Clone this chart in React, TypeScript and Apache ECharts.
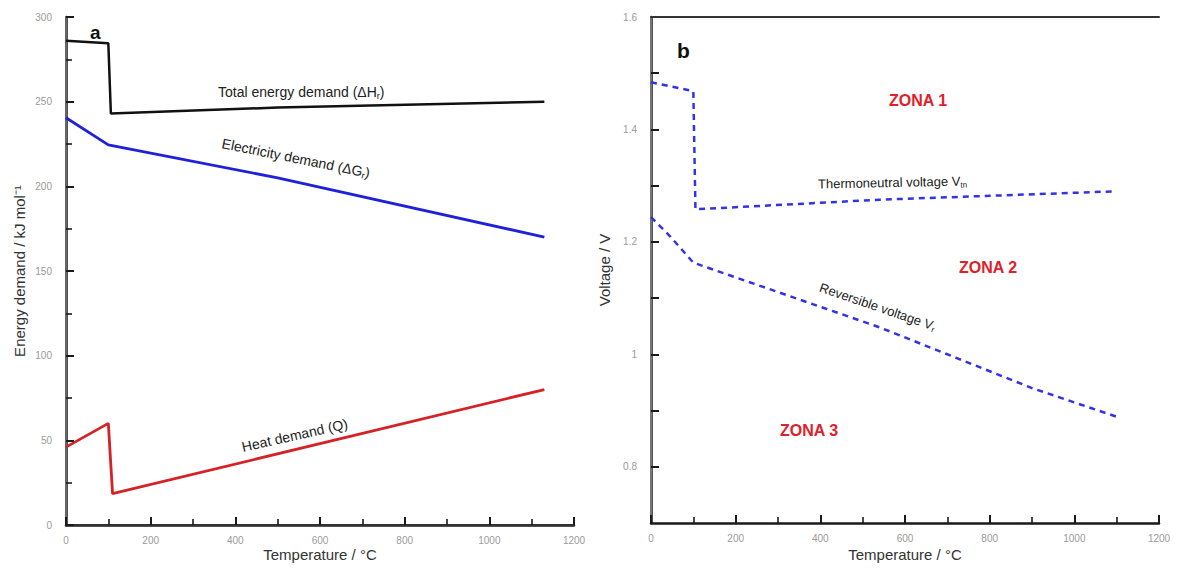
import React, { useEffect, useRef } from "react";
import * as echarts from "echarts";

// ---- Panel a: energy demand (kJ/mol) vs temperature (°C)
const tempTotal = [0, 100, 106, 500, 1130];
const totalDemand = [286, 284.5, 243, 246.5, 250];
const tempElec = [0, 100, 500, 1130];
const elecDemand = [240.5, 224.5, 205, 170];
const tempHeat = [0, 100, 110, 1130];
const heatDemand = [46, 60, 18.5, 80];

// ---- Panel b: voltage (V) vs temperature (°C)
const tempThermo = [0, 100, 105, 540, 1100];
const thermoVoltage = [1.484, 1.468, 1.258, 1.275, 1.29];
const tempRev = [0, 45, 100, 540, 900, 1100];
const revVoltage = [1.244, 1.21, 1.163, 1.048, 0.94, 0.889];

const yTicksB = [0.8, 1, 1.2, 1.4, 1.6];
const yMinorTicksB = [0.8, 0.9, 1, 1.1, 1.2, 1.3, 1.4, 1.5];

const zip = (xs: number[], ys: number[]) => xs.map((x, i) => [x, ys[i]]);

const FONT = "Liberation Sans";
const labelColor = "#9a9a9a";

export default function App() {
  const ref = useRef<HTMLDivElement>(null);
  useEffect(() => {
    if (!ref.current) return;
    const chart = echarts.init(ref.current, null, { renderer: "svg" });
    const mkLine = (color: string, width: number) => ({ show: true, lineStyle: { color, width } });
    const mkTick = () => ({ show: true, inside: true, length: 8, lineStyle: { color: "#1a1a1a", width: 2 } });
    const mkMinor = () => ({ show: true, splitNumber: 2, length: 6, lineStyle: { color: "#1a1a1a", width: 1.6 } });
    const plainLabel = (v: number) => String(Math.round(v * 100) / 100);
    const hiddenSplit = () => ({ show: true, lineStyle: { color: "rgba(0,0,0,0)", width: 0 } });
    const frameX = (gridIndex: number, color: string) => ({
      type: "value", gridIndex, position: "top", min: 0, max: 1200,
      axisLine: mkLine(color, 2), axisTick: { show: false }, axisLabel: { show: false }, splitLine: hiddenSplit(),
    });
    const frameY = (gridIndex: number, min: number, max: number, color: string) => ({
      type: "value", gridIndex, position: "right", min, max,
      axisLine: mkLine(color, 2), axisTick: { show: false }, axisLabel: { show: false }, splitLine: hiddenSplit(),
    });
    const xMain = (gridIndex: number) => ({
      type: "value", gridIndex, min: 0, max: 1200, interval: 200,
      axisLine: mkLine("#1a1a1a", 2.5), axisTick: mkTick(), minorTick: mkMinor(),
      axisLabel: { show: true, fontFamily: FONT, fontSize: 10, color: labelColor, margin: 10, formatter: plainLabel },
      splitLine: hiddenSplit(),
    });
    const option: any = {
      animation: false,
      grid: [
        { left: 66, top: 17, width: 508, height: 508 },
        { left: 651, top: 17, width: 508, height: 506 },
      ],
      xAxis: [xMain(0), xMain(1), frameX(0, "#333"), frameX(1, "#333")],
      yAxis: [
        {
          type: "value", gridIndex: 0, min: 0, max: 300, interval: 50,
          axisLine: mkLine("#1a1a1a", 2.5), axisTick: mkTick(), minorTick: mkMinor(),
          axisLabel: { show: true, fontFamily: FONT, fontSize: 10, color: labelColor, margin: 14, formatter: plainLabel },
          splitLine: hiddenSplit(),
        },
        {
          type: "value", gridIndex: 1, min: 0.7, max: 1.6,
          axisLine: mkLine("#1a1a1a", 2.5),
          axisTick: { ...mkTick(), customValues: yMinorTicksB },
          axisLabel: { show: true, fontFamily: FONT, fontSize: 10, color: labelColor, margin: 14, customValues: yTicksB, formatter: plainLabel },
          splitLine: hiddenSplit(),
        },
        frameY(0, 0, 300, "#666"),
        frameY(1, 0.7, 1.6, "#777"),
      ],
      series: [
        {
          type: "line", xAxisIndex: 0, yAxisIndex: 0, data: zip(tempTotal, totalDemand),
          symbol: "none", lineStyle: { color: "#111", width: 2.5 },
        },
        {
          type: "line", xAxisIndex: 0, yAxisIndex: 0, data: zip(tempElec, elecDemand),
          symbol: "none", lineStyle: { color: "#2020d8", width: 2.8 },
        },
        {
          type: "line", xAxisIndex: 0, yAxisIndex: 0, data: zip(tempHeat, heatDemand),
          symbol: "none", lineStyle: { color: "#d42226", width: 2.8 },
        },
        {
          type: "line", xAxisIndex: 1, yAxisIndex: 1, data: zip(tempThermo, thermoVoltage),
          symbol: "none", lineStyle: { color: "#3232e6", width: 2.5, type: [6, 5] },
        },
        {
          type: "line", xAxisIndex: 1, yAxisIndex: 1, data: zip(tempRev, revVoltage),
          symbol: "none", lineStyle: { color: "#3232e6", width: 2.5, type: [6, 5] },
        },
      ],
      graphic: [
        { type: "text", x: 19, y: 271, rotation: Math.PI / 2,
          style: { text: "Energy demand / kJ mol⁻¹", font: `15px ${FONT}`, fill: "#333", align: "center", verticalAlign: "middle" } },
        { type: "text", x: 604, y: 270, rotation: Math.PI / 2,
          style: { text: "Voltage / V", font: `15px ${FONT}`, fill: "#333", align: "center", verticalAlign: "middle" } },
        { type: "text", x: 320, y: 554,
          style: { text: "Temperature / °C", font: `15px ${FONT}`, fill: "#333", align: "center", verticalAlign: "middle" } },
        { type: "text", x: 905, y: 554,
          style: { text: "Temperature / °C", font: `15px ${FONT}`, fill: "#333", align: "center", verticalAlign: "middle" } },
        { type: "text", x: 90, y: 32, style: { text: "a", font: `bold 19px ${FONT}`, fill: "#111", verticalAlign: "middle" } },
        {
          type: "text", x: 218, y: 92,
          style: {
            text: "Total energy demand (ΔH{s|r})", font: `14px ${FONT}`, fill: "#222", verticalAlign: "middle",
            rich: { s: { fontSize: 9, fontFamily: FONT, fill: "#222", padding: [8, 0, 0, 0] } },
          },
        },
        {
          type: "text", x: 222, y: 143, rotation: -0.2,
          style: {
            text: "Electricity demand (ΔG{s|r})", font: `14px ${FONT}`, fill: "#222", verticalAlign: "middle",
            rich: { s: { fontSize: 9, fontFamily: FONT, fill: "#222", padding: [8, 0, 0, 0] } },
          },
        },
        {
          type: "text", x: 242, y: 447, rotation: 0.22,
          style: { text: "Heat demand (Q)", font: `14px ${FONT}`, fill: "#222", verticalAlign: "middle" },
        },
        { type: "text", x: 677, y: 50, style: { text: "b", font: `bold 21px ${FONT}`, fill: "#111", verticalAlign: "middle" } },
        { type: "text", x: 918, y: 100, style: { text: "ZONA 1", font: `bold 16px ${FONT}`, fill: "#e0202a", align: "center", verticalAlign: "middle" } },
        { type: "text", x: 988, y: 267, style: { text: "ZONA 2", font: `bold 16px ${FONT}`, fill: "#e0202a", align: "center", verticalAlign: "middle" } },
        { type: "text", x: 809, y: 430, style: { text: "ZONA 3", font: `bold 16px ${FONT}`, fill: "#e0202a", align: "center", verticalAlign: "middle" } },
        {
          type: "text", x: 818, y: 184, rotation: 0.02,
          style: {
            text: "Thermoneutral voltage V{s|tn}", font: `13px ${FONT}`, fill: "#222", verticalAlign: "middle",
            rich: { s: { fontSize: 8, fontFamily: FONT, fill: "#222", padding: [8, 0, 0, 0] } },
          },
        },
        {
          type: "text", x: 820, y: 287, rotation: -0.33,
          style: {
            text: "Reversible voltage V{s|r}", font: `13px ${FONT}`, fill: "#222", verticalAlign: "middle",
            rich: { s: { fontSize: 8, fontFamily: FONT, fill: "#222", padding: [8, 0, 0, 0] } },
          },
        },
      ],
    };
    chart.setOption(option);
    return () => chart.dispose();
  }, []);
  return <div ref={ref} style={{ position: "absolute", left: 0, top: 0, width: 1180, height: 570 }} />;
}
